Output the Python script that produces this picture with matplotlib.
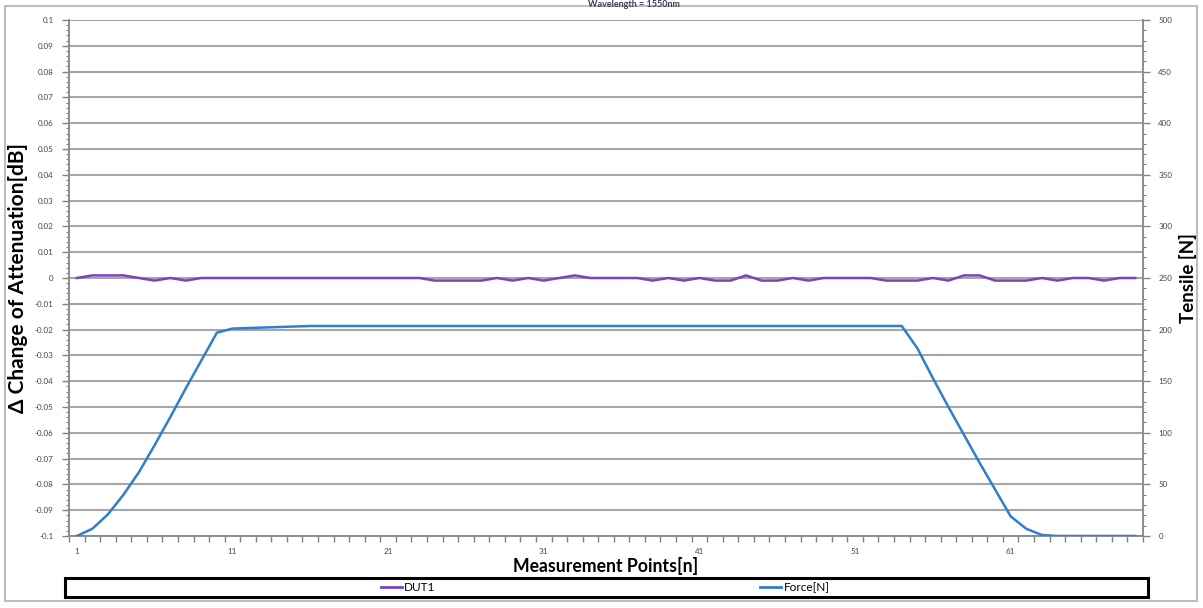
import matplotlib
matplotlib.use("Agg")
import matplotlib.pyplot as plt
from matplotlib.lines import Line2D
from matplotlib.patches import Rectangle
from matplotlib.ticker import MultipleLocator, FixedLocator

# ---------------- data ----------------
points = list(range(1, 70))
dut1 = [0, 0.001, 0.001, 0.001, 0, -0.001, 0, -0.001, 0,
        0, 0, 0, 0, 0, 0, 0, 0, 0, 0, 0, 0, 0, 0,
        -0.001, -0.001, -0.001, -0.001, 0, -0.001, 0, -0.001, 0, 0.001, 0,
        0, 0, 0, -0.001, 0, -0.001, 0, -0.001, -0.001, 0.001, -0.001, -0.001,
        0, -0.001, 0, 0, 0, 0, -0.001, -0.001, -0.001, 0, -0.001, 0.001, 0.001,
        -0.001, -0.001, -0.001, 0, -0.001, 0, 0, -0.001, 0, 0]
force = [0, 7, 21, 40, 62, 88, 115, 143, 170, 197,
         201, 201.5, 202, 202.5, 203, 203.5, 203.5, 203.5, 203.5, 203.5,
         203.5, 203.5, 203.5, 203.5, 203.5, 203.5, 203.5, 203.5, 203.5, 203.5,
         203.5, 203.5, 203.5, 203.5, 203.5, 203.5, 203.5, 203.5, 203.5, 203.5,
         203.5, 203.5, 203.5, 203.5, 203.5, 203.5, 203.5, 203.5, 203.5, 203.5,
         203.5, 203.5, 203.5, 203.5,
         182, 153, 125, 98, 71, 45, 19, 7, 1,
         0, 0, 0, 0, 0, 0]
x_tick_labels = ["1", "11", "21", "31", "41", "51", "61"]
left_ticks = [0.1, 0.09, 0.08, 0.07, 0.06, 0.05, 0.04, 0.03, 0.02, 0.01, 0,
              -0.01, -0.02, -0.03, -0.04, -0.05, -0.06, -0.07, -0.08, -0.09, -0.1]
left_tick_labels = ["0.1", "0.09", "0.08", "0.07", "0.06", "0.05", "0.04", "0.03",
                    "0.02", "0.01", "0", "-0.01", "-0.02", "-0.03", "-0.04", "-0.05",
                    "-0.06", "-0.07", "-0.08", "-0.09", "-0.1"]
right_ticks = [0, 50, 100, 150, 200, 250, 300, 350, 400, 450, 500]
title_text = "Wavelength = 1550nm"
series_names = ["DUT1", "Force[N]"]

# ---------------- style ----------------
W, H = 1203, 608
fig = plt.figure(figsize=(W / 100, H / 100), dpi=100)
plt.rcParams['font.family'] = ['Lato', 'DejaVu Sans']

purple = "#8040BF"
blue = "#2E7FCC"
grid_c = "#A6A6A6"
tick_txt = "#404060"

def fx(px):
    return px / W

def fy(py):
    return 1 - py / H

# outer chart border
fig.patches.append(Rectangle((fx(5), fy(601)), fx(1197) - fx(5), fy(6) - fy(601),
                             transform=fig.transFigure, fill=False,
                             edgecolor="#BDBDBD", lw=1.5, zorder=0))

L, R, T, B = 69, 1143, 20, 536
ax = fig.add_axes([fx(L), fy(B), fx(R) - fx(L), fy(T) - fy(B)])
ax2 = ax.twinx()

ax.plot(points, dut1, color=purple, lw=1.8, zorder=3)
ax2.plot(points, force, color=blue, lw=1.8, zorder=3)

ax.set_xlim(0.5, 69.5)
ax.set_ylim(-0.1, 0.1)
ax2.set_ylim(0, 500)

# left axis
ax.set_yticks(left_ticks)
ax.set_yticklabels(left_tick_labels)
ax.yaxis.set_minor_locator(MultipleLocator(0.002))
ax.tick_params(axis='y', which='major', length=5, width=1, color="#808080",
               labelsize=5.8, labelcolor=tick_txt, pad=6)
ax.tick_params(axis='y', which='minor', length=2.5, width=0.8, color="#808080")
ax.grid(axis='y', which='major', color=grid_c, lw=1.5)
ax.set_axisbelow(True)

# x axis
ax.xaxis.set_major_locator(FixedLocator([int(s) for s in x_tick_labels]))
ax.set_xticklabels(x_tick_labels)
ax.xaxis.set_minor_locator(FixedLocator([i + 0.5 for i in range(0, 70)]))
ax.tick_params(axis='x', which='major', length=0, labelsize=5.8,
               labelcolor=tick_txt, pad=9)
ax.tick_params(axis='x', which='minor', length=4, width=1, color="#808080")

# right axis
ax2.set_yticks(right_ticks)
ax2.set_yticklabels([str(v) for v in right_ticks])
ax2.yaxis.set_minor_locator(MultipleLocator(10))
ax2.tick_params(axis='y', which='major', length=5, width=1, color="#808080",
                labelsize=5.8, labelcolor=tick_txt, pad=6)
ax2.tick_params(axis='y', which='minor', length=2.5, width=0.8, color="#808080")

for a in (ax, ax2):
    for s in ('left', 'right', 'bottom'):
        a.spines[s].set_color("#8C8C8C")
        a.spines[s].set_linewidth(1.2)
    a.spines['top'].set_visible(False)

ax.set_xlabel("Measurement Points[n]", fontsize=12.7, fontweight='bold', labelpad=1)
ax.set_ylabel("Δ Change of Attenuation[dB]", fontsize=15, fontweight='bold',
              labelpad=5)
ax2.set_ylabel("Tensile [N]", fontsize=13.5, fontweight='bold', labelpad=5)

# title at the very top (mostly cut by the chart frame in the original)
fig.text(fx(634), fy(0), title_text, ha='center', va='top', fontsize=6.5,
         fontweight='bold', color="#404060")

# legend box
fig.patches.append(Rectangle((fx(65), fy(597)), fx(1148) - fx(65), fy(578) - fy(597),
                             transform=fig.transFigure, fill=False,
                             edgecolor="black", lw=2.2, zorder=5))
h1 = Line2D([], [], color=purple, lw=2)
h2 = Line2D([], [], color=blue, lw=2)
for h, name, cx in ((h1, series_names[0], 408), (h2, series_names[1], 795)):
    fig.legend([h], [name], loc='center', bbox_to_anchor=(fx(cx), fy(587.5)),
               frameon=False, fontsize=8.5, handlelength=1.8, handletextpad=0.2,
               borderpad=0, borderaxespad=0)

fig.savefig("out.png", dpi=100)
